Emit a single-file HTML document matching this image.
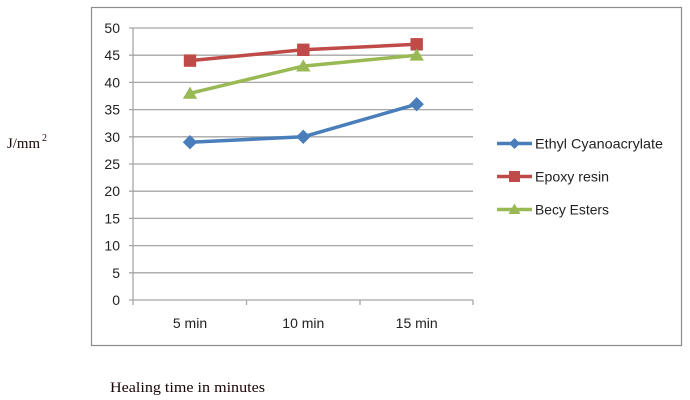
<!DOCTYPE html>
<html><head><meta charset="utf-8"><style>
html,body{margin:0;padding:0;background:#fff;}
svg{display:block;}
</style></head><body>
<svg width="690" height="400" xmlns="http://www.w3.org/2000/svg">
<rect x="0" y="0" width="690" height="400" fill="#fff"/>
<rect x="91.5" y="7.5" width="590" height="338" fill="#fff" stroke="#8c8c8c" stroke-width="1.2"/>
<g stroke="#a6a6a6" stroke-width="1.3">
<line x1="129" y1="28" x2="473" y2="28"/>
<line x1="129" y1="55.2" x2="473" y2="55.2"/>
<line x1="129" y1="82.4" x2="473" y2="82.4"/>
<line x1="129" y1="109.6" x2="473" y2="109.6"/>
<line x1="129" y1="136.8" x2="473" y2="136.8"/>
<line x1="129" y1="164" x2="473" y2="164"/>
<line x1="129" y1="191.2" x2="473" y2="191.2"/>
<line x1="129" y1="218.4" x2="473" y2="218.4"/>
<line x1="129" y1="245.6" x2="473" y2="245.6"/>
<line x1="129" y1="272.8" x2="473" y2="272.8"/>
<line x1="129" y1="300" x2="473" y2="300"/>
<line x1="133" y1="28" x2="133" y2="305"/>
<line x1="246.5" y1="300" x2="246.5" y2="305"/>
<line x1="360" y1="300" x2="360" y2="305"/>
<line x1="473" y1="300" x2="473" y2="305"/>
</g>
<g font-family="Liberation Sans, sans-serif" font-size="14" fill="#222" text-anchor="end">
<text x="120" y="33">50</text>
<text x="120" y="60.2">45</text>
<text x="120" y="87.4">40</text>
<text x="120" y="114.6">35</text>
<text x="120" y="141.8">30</text>
<text x="120" y="169">25</text>
<text x="120" y="196.2">20</text>
<text x="120" y="223.4">15</text>
<text x="120" y="250.6">10</text>
<text x="120" y="277.8">5</text>
<text x="120" y="305">0</text>
</g>
<g font-family="Liberation Sans, sans-serif" font-size="14" fill="#222" text-anchor="middle">
<text x="190" y="328">5 min</text>
<text x="303.3" y="328">10 min</text>
<text x="416.7" y="328">15 min</text>
</g>
<!-- Ethyl Cyanoacrylate: 29,30,36 -->
<polyline points="190,142.2 303.3,136.8 416.7,104.2" fill="none" stroke="#4a7ebb" stroke-width="3.5" stroke-linejoin="round"/>
<g fill="#4a7ebb">
<polygon points="190,135 197.2,142.2 190,149.4 182.8,142.2"/>
<polygon points="303.3,129.6 310.5,136.8 303.3,144 296.1,136.8"/>
<polygon points="416.7,97 423.9,104.2 416.7,111.4 409.5,104.2"/>
</g>
<!-- Epoxy resin: 44,46,47 -->
<polyline points="190,60.6 303.3,49.8 416.7,44.3" fill="none" stroke="#be4b48" stroke-width="3.5" stroke-linejoin="round"/>
<g fill="#be4b48">
<rect x="183.8" y="54.4" width="12.4" height="12.4"/>
<rect x="297.1" y="43.6" width="12.4" height="12.4"/>
<rect x="410.5" y="38.1" width="12.4" height="12.4"/>
</g>
<!-- Becy Esters: 38,43,45 -->
<polyline points="190,93.3 303.3,66.1 416.7,55.2" fill="none" stroke="#98b954" stroke-width="3.5" stroke-linejoin="round"/>
<g fill="#98b954">
<polygon points="190,86.6 197.2,98.7 182.8,98.7"/>
<polygon points="303.3,59.4 310.5,71.5 296.1,71.5"/>
<polygon points="416.7,48.5 423.9,60.6 409.5,60.6"/>
</g>
<!-- legend -->
<line x1="497" y1="143.5" x2="532" y2="143.5" stroke="#4a7ebb" stroke-width="3.5"/>
<polygon points="514.5,138 520,143.5 514.5,149 509,143.5" fill="#4a7ebb"/>
<line x1="497" y1="176.5" x2="532" y2="176.5" stroke="#be4b48" stroke-width="3.5"/>
<rect x="509" y="171" width="11" height="11" fill="#be4b48"/>
<line x1="497" y1="209.5" x2="532" y2="209.5" stroke="#98b954" stroke-width="3.5"/>
<polygon points="514.5,203.5 520.5,214 508.5,214" fill="#98b954"/>
<g font-family="Liberation Sans, sans-serif" font-size="14" fill="#222">
<text x="535" y="148.5" textLength="128" lengthAdjust="spacingAndGlyphs">Ethyl Cyanoacrylate</text>
<text x="535" y="181.5" textLength="74" lengthAdjust="spacingAndGlyphs">Epoxy resin</text>
<text x="535" y="214.5" textLength="74" lengthAdjust="spacingAndGlyphs">Becy Esters</text>
</g>
<text x="7" y="148" font-family="Liberation Serif, serif" font-size="15" fill="#1a0505" textLength="33" lengthAdjust="spacingAndGlyphs">J/mm</text>
<text x="42" y="141" font-family="Liberation Serif, serif" font-size="10" fill="#1a0505">2</text>
<text x="110" y="392" font-family="Liberation Serif, serif" font-size="15" fill="#1a0505" textLength="155" lengthAdjust="spacingAndGlyphs">Healing time in minutes</text>
</svg>
</body></html>
